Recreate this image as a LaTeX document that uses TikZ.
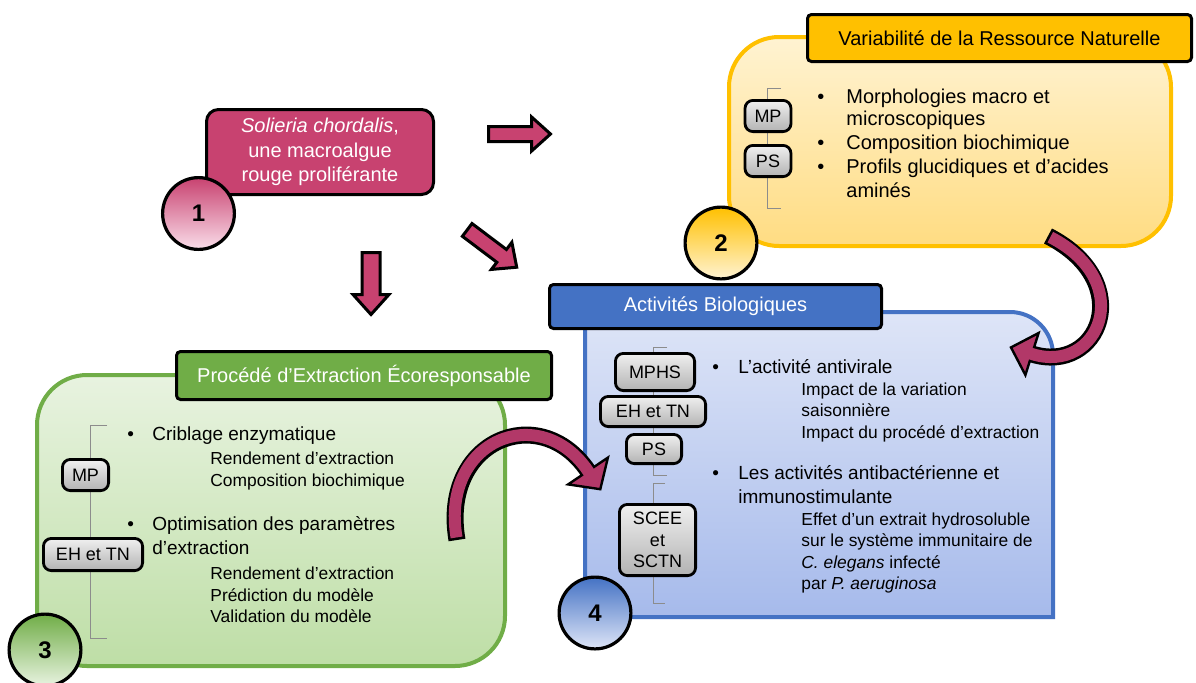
\documentclass[tikz,border=0pt]{standalone}
\usepackage{fontspec}
\setmainfont{Liberation Sans}
\usetikzlibrary{shapes.arrows}

\definecolor{rose}{RGB}{200,66,112}
\definecolor{roseclair}{RGB}{250,222,234}
\definecolor{bordeaux}{RGB}{178,56,104}
\definecolor{jaune}{RGB}{255,192,0}
\definecolor{jauneclair}{RGB}{255,243,210}
\definecolor{jaunefond}{RGB}{255,220,130}
\definecolor{vert}{RGB}{112,173,71}
\definecolor{vertclair}{RGB}{232,243,224}
\definecolor{vertfond}{RGB}{190,222,166}
\definecolor{bleu}{RGB}{68,114,196}
\definecolor{bleuclair}{RGB}{222,229,247}
\definecolor{bleufond}{RGB}{166,186,235}

\newcommand{\taillegrand}{\fontsize{10}{12}\selectfont}
\newcommand{\taillemoy}{\fontsize{9.5}{11.5}\selectfont}
\newcommand{\taillepetit}{\fontsize{8.7}{10.5}\selectfont}

\tikzset{
  corps/.style={rectangle, rounded corners=25pt, line width=2pt, inner sep=0pt},
  titre/.style={rectangle, draw=black, line width=1.5pt, rounded corners=2pt, inner sep=0pt, font=\taillegrand},
  etiq/.style={rectangle, draw=black, line width=1.4pt, rounded corners=4pt, top color=white!94!black, bottom color=white!70!black, inner sep=0pt, align=center, font=\fontsize{9}{10.75}\selectfont},
  rond/.style={circle, draw=black, line width=1.6pt, minimum size=35.9pt, inner sep=0pt, shading angle=-45, font=\bfseries\fontsize{12}{12}\selectfont},
  fleche/.style={single arrow, draw=black, line width=1.5pt, fill=rose, inner xsep=0pt, anchor=tail, single arrow tip angle=84},
  ligne/.style={anchor=west, inner sep=0pt, text height=0.8em, text depth=0.1em},
  crochet/.style={draw=black!45, line width=0.5pt},
  bande/.style={draw=black, line width=8.5pt},
  bandein/.style={draw=bordeaux, line width=6pt, shorten <=1.3pt},
  pointe/.style={fill=bordeaux, draw=black, line width=1.2pt, line join=miter},
}

\begin{document}
\begin{tikzpicture}[x=0.5pt,y=-0.5pt]
  \useasboundingbox (0,0) rectangle (1196,682);
  \clip (0,0) rectangle (1196,682);

  %%%%%%%%%% RESSOURCE NATURELLE %%%%%%%%%%
  \node[corps, draw=jaune, top color=jauneclair, bottom color=jaunefond, minimum width=221pt, minimum height=104.5pt] (corps2) at (950,141.5) {};
  \node[titre, fill=jaune, minimum width=192pt, minimum height=23.5pt] (titre2) at (999.5,38) {Variabilité de la Ressource Naturelle};

  \draw[crochet] (781,88) -- (767,88) -- (767,208) -- (781,208);
  \node[etiq, minimum width=23pt, minimum height=15.6pt] (mp2) at (768,116) {MP};
  \node[etiq, minimum width=23pt, minimum height=15.6pt] (ps2) at (768,161) {PS};

  \node[ligne, font=\taillegrand] (puce2a) at (817,96) {\textbullet};
  \node[ligne, font=\taillegrand] (puce2b) at (817,142) {\textbullet};
  \node[ligne, font=\taillegrand] (puce2c) at (817,166) {\textbullet};
  \node[ligne, font=\taillegrand] (l2a) at (846,96) {Morphologies macro et};
  \node[ligne, font=\taillegrand] (l2b) at (846,118) {microscopiques};
  \node[ligne, font=\taillegrand] (l2c) at (846,142) {Composition biochimique};
  \node[ligne, font=\taillegrand] (l2d) at (846,166) {Profils glucidiques et d’acides};
  \node[ligne, font=\taillegrand] (l2e) at (846,190) {aminés};

  \node[rond, top color=jaune, bottom color=jauneclair] (c2) at (721,243) {2};

  %%%%%%%%%% EXTRACTION %%%%%%%%%%
  \node[corps, draw=vert, top color=vertclair, bottom color=vertfond, minimum width=234pt, minimum height=145.5pt] (corps3) at (271,520.5) {};
  \node[titre, fill=vert, text=white, minimum width=187.5pt, minimum height=24pt] (titre3) at (364,375.5) {Procédé d’Extraction Écoresponsable};

  \draw[crochet] (107,425) -- (90,425) -- (90,638) -- (107,638);
  \node[etiq, minimum width=23.1pt, minimum height=15.6pt] (mp3) at (85.5,475) {MP};
  \node[etiq, minimum width=49.6pt, minimum height=16.1pt] (eh3) at (93,554.5) {EH et TN};

  \node[ligne, font=\taillemoy] (puce3a) at (127,433) {\textbullet};
  \node[ligne, font=\taillemoy] (puce3b) at (127,523) {\textbullet};
  \node[ligne, font=\taillemoy] (l3a) at (152,433) {Criblage enzymatique};
  \node[ligne, font=\taillepetit] (l3b) at (210,457) {Rendement d’extraction};
  \node[ligne, font=\taillepetit] (l3c) at (210,479) {Composition biochimique};
  \node[ligne, font=\taillemoy] (l3d) at (152,523) {Optimisation des paramètres};
  \node[ligne, font=\taillemoy] (l3e) at (152,547) {d’extraction};
  \node[ligne, font=\taillepetit] (l3f) at (210,572) {Rendement d’extraction};
  \node[ligne, font=\taillepetit] (l3g) at (210,594) {Prédiction du modèle};
  \node[ligne, font=\taillepetit] (l3h) at (210,615) {Validation du modèle};

  \node[rond, top color=vert, bottom color=vertclair] (c3) at (45,650) {3};

  %%%%%%%%%% ACTIVITES %%%%%%%%%%
  \draw[draw=bleu, line width=2pt, top color=bleuclair, bottom color=bleufond] (585,312) -- (1010,312) arc[start angle=-90, end angle=0, radius=43] -- (1053,617) -- (585,617) -- cycle;
  \node[titre, fill=bleu, text=white, minimum width=166pt, minimum height=22pt] (titre4) at (715.5,306.5) {Activités Biologiques};

  \draw[crochet] (667,347) -- (653,347) -- (653,475) -- (667,475);
  \draw[crochet] (665,483) -- (653,483) -- (653,603) -- (665,603);
  \node[etiq, minimum width=39.6pt, minimum height=18.6pt] (mphs4) at (655,372) {MPHS};
  \node[etiq, minimum width=52.6pt, minimum height=15.1pt] (eh4) at (653,411.5) {EH et TN};
  \node[etiq, minimum width=27.6pt, minimum height=14.6pt] (ps4) at (654,449) {PS};
  \node[etiq, minimum width=38.1pt, minimum height=35.6pt] (sc4) at (657.5,540) {SCEE\\et\\SCTN};

  \node[ligne, font=\taillemoy] (puce4a) at (712,366) {\textbullet};
  \node[ligne, font=\taillemoy] (puce4b) at (712,472) {\textbullet};
  \node[ligne, font=\taillemoy] (l4a) at (738,366) {L’activité antivirale};
  \node[ligne, font=\taillepetit] (l4b) at (801,388) {Impact de la variation};
  \node[ligne, font=\taillepetit] (l4c) at (801,409) {saisonnière};
  \node[ligne, font=\taillepetit] (l4d) at (801,431) {Impact du procédé d’extraction};
  \node[ligne, font=\taillemoy] (l4e) at (738,472) {Les activités antibactérienne et};
  \node[ligne, font=\taillemoy] (l4f) at (738,496) {immunostimulante};
  \node[ligne, font=\taillepetit] (l4g) at (801,518) {Effet d’un extrait hydrosoluble};
  \node[ligne, font=\taillepetit] (l4h) at (801,539) {sur le système immunitaire de};
  \node[ligne, font=\taillepetit] (l4i) at (801,561) {\textit{C. elegans} infecté};
  \node[ligne, font=\taillepetit] (l4j) at (801,582) {par \textit{P. aeruginosa}};

  \node[rond, top color=bleu, bottom color=bleuclair] (c4) at (595,613) {4};

  %%%%%%%%%% MACROALGUE %%%%%%%%%%
  \node[rectangle, draw=black, line width=1.5pt, fill=rose, rounded corners=6pt, text=white, align=center, font=\fontsize{10}{12.25}\selectfont, minimum width=113.5pt, minimum height=42.5pt] (algue) at (320,152) {\textit{Solieria chordalis},\\une macroalgue\\rouge proliférante};
  \node[rond, top color=rose, bottom color=roseclair] (c1) at (198.5,213.5) {1};

  \node[fleche, inner ysep=3pt, minimum height=31pt, minimum width=15.5pt, single arrow head extend=4.75pt] (f12) at (487,134) {};
  \node[fleche, inner ysep=3.75pt, minimum height=31pt, minimum width=16.5pt, single arrow head extend=4.5pt, rotate=-90] (f13) at (371,251) {};
  \node[fleche, inner ysep=3.25pt, minimum height=31pt, minimum width=16pt, single arrow head extend=4.5pt, rotate=-37] (f14) at (466,229) {};

  % fleches courbes vers le bloc 4
  \draw[bande] (1048,236) .. controls (1138,282) and (1099,375) .. (1032,354);
  \draw[pointe] (1011,347.4) -- (1038.6,333) -- (1025.4,375) -- cycle;
  \draw[bandein] (1048,236) .. controls (1138,282) and (1099,375) .. (1032,354) -- (1028.2,352.8);

  \draw[bande] (457,540) .. controls (440,440) and (540,400) .. (588,471);
  \draw[pointe] (600.3,489.2) -- (607.9,457.6) -- (568.1,484.4) -- cycle;
  \draw[bandein] (457,540) .. controls (440,440) and (540,400) .. (588,471) -- (590.2,474.3);

\end{tikzpicture}
\end{document}
